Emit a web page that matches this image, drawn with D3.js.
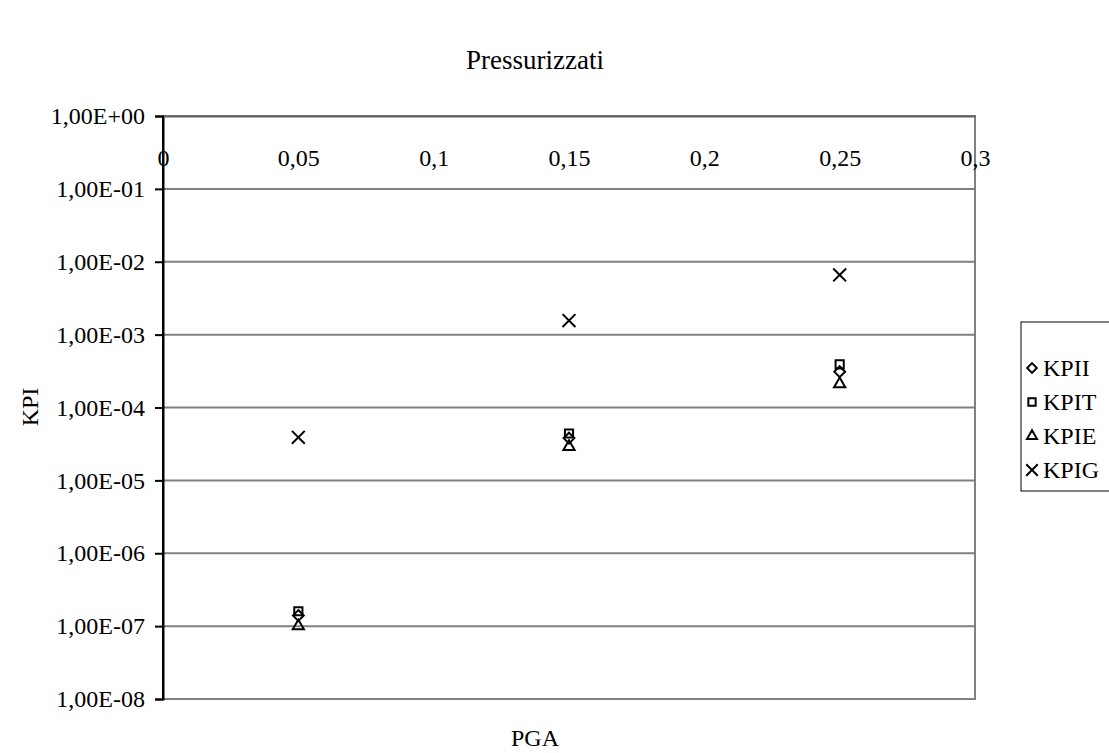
<!DOCTYPE html>
<html><head><meta charset="utf-8">
<script src="https://cdn.jsdelivr.net/npm/d3@7"></script>
<style>body{margin:0;background:#fff}svg{display:block}text{font-family:"Liberation Serif","Times New Roman",serif;fill:#000}</style>
</head><body>
<svg id="c" width="1109" height="753"></svg>
<script>
const xValues = [0.05, 0.15, 0.25];
const seriesNames = ["KPII", "KPIT", "KPIE", "KPIG"];
const KPII = [1.4e-7, 3.8e-5, 3.1e-4];
const KPIT = [1.6e-7, 4.4e-5, 3.9e-4];
const KPIE = [1.0e-7, 2.9e-5, 2.1e-4];
const KPIG = [3.9e-5, 1.56e-3, 6.6e-3];
const xTicks = [0, 0.05, 0.1, 0.15, 0.2, 0.25, 0.3];
const xTickLabels = ["0", "0,05", "0,1", "0,15", "0,2", "0,25", "0,3"];
const yTicks = [1, 1e-1, 1e-2, 1e-3, 1e-4, 1e-5, 1e-6, 1e-7, 1e-8];
const yTickLabels = ["1,00E+00","1,00E-01","1,00E-02","1,00E-03","1,00E-04","1,00E-05","1,00E-06","1,00E-07","1,00E-08"];

const svg = d3.select("#c");
const L = 163, R = 975, T = 116, B = 699;
const x = d3.scaleLinear().domain([0, 0.3]).range([L, R]);
const y = d3.scaleLog().domain([1e-8, 1]).range([B, T]);
const FONT = "Liberation Serif";

// gridlines
svg.append("g").selectAll("line").data(yTicks).join("line")
  .attr("x1", L).attr("x2", R).attr("y1", d => y(d)).attr("y2", d => y(d))
  .attr("stroke", "#808080").attr("stroke-width", 2);
// plot border
svg.append("rect").attr("x", L).attr("y", T).attr("width", R - L).attr("height", B - T)
  .attr("fill", "none").attr("stroke", "#808080").attr("stroke-width", 2);

// y axis
const yAxis = d3.axisLeft(y).tickValues(yTicks).tickFormat((d, i) => yTickLabels[i]).tickSize(8).tickPadding(10);
const gy = svg.append("g").attr("transform", `translate(${L},0)`).call(yAxis);
gy.select(".domain").attr("stroke", "#000").attr("stroke-width", 2);
gy.selectAll(".tick line").attr("stroke", "#000").attr("stroke-width", 2);
gy.selectAll(".tick text").attr("font-size", 24).attr("font-family", FONT).attr("fill", "#000");

// x axis at top (y=1), labels below
const xAxis = d3.axisBottom(x).tickValues(xTicks).tickFormat((d, i) => xTickLabels[i]).tickSize(0).tickPadding(33);
const gx = svg.append("g").attr("transform", `translate(0,${T})`).call(xAxis);
gx.select(".domain").attr("stroke", "#606060").attr("stroke-width", 2);
gx.selectAll(".tick text").attr("font-size", 24).attr("font-family", FONT).attr("fill", "#000");
svg.append("line").attr("x1", L).attr("x2", L).attr("y1", T).attr("y2", B).attr("stroke", "#000").attr("stroke-width", 2);

// markers
const symType = {KPII: d3.symbolDiamond2, KPIT: d3.symbolSquare2, KPIE: d3.symbolTriangle2, KPIG: d3.symbolTimes};
const symSize = {KPII: 75, KPIT: 85, KPIE: 90, KPIG: 110};
const data = {KPII, KPIT, KPIE, KPIG};
seriesNames.forEach(name => {
  svg.append("g").selectAll("path").data(data[name].map((v, i) => [xValues[i], v])).join("path")
    .attr("d", d3.symbol().type(symType[name]).size(symSize[name])())
    .attr("transform", d => `translate(${x(d[0])},${y(d[1])})`)
    .attr("fill", "none").attr("stroke", "#000").attr("stroke-width", 2);
});

// titles
svg.append("text").attr("x", 535).attr("y", 69).attr("text-anchor", "middle").attr("font-size", 27).text("Pressurizzati");
svg.append("text").attr("x", 535).attr("y", 746).attr("text-anchor", "middle").attr("font-size", 24).text("PGA");
svg.append("text").attr("transform", "translate(38,407) rotate(-90)").attr("text-anchor", "middle").attr("font-size", 24).text("KPI");

// legend
const lg = svg.append("g");
lg.append("rect").attr("x", 1021).attr("y", 322).attr("width", 120).attr("height", 169)
  .attr("fill", "#fff").attr("stroke", "#000").attr("stroke-width", 1);
seriesNames.forEach((name, i) => {
  const cy = 368 + i * 34;
  lg.append("path").attr("d", d3.symbol().type(symType[name]).size(symSize[name] * 0.8)())
    .attr("transform", `translate(1032,${cy})`).attr("fill", "none").attr("stroke", "#000").attr("stroke-width", 2);
  lg.append("text").attr("x", 1043).attr("y", cy + 8).attr("font-size", 24).text(name);
});
</script>
</body></html>
